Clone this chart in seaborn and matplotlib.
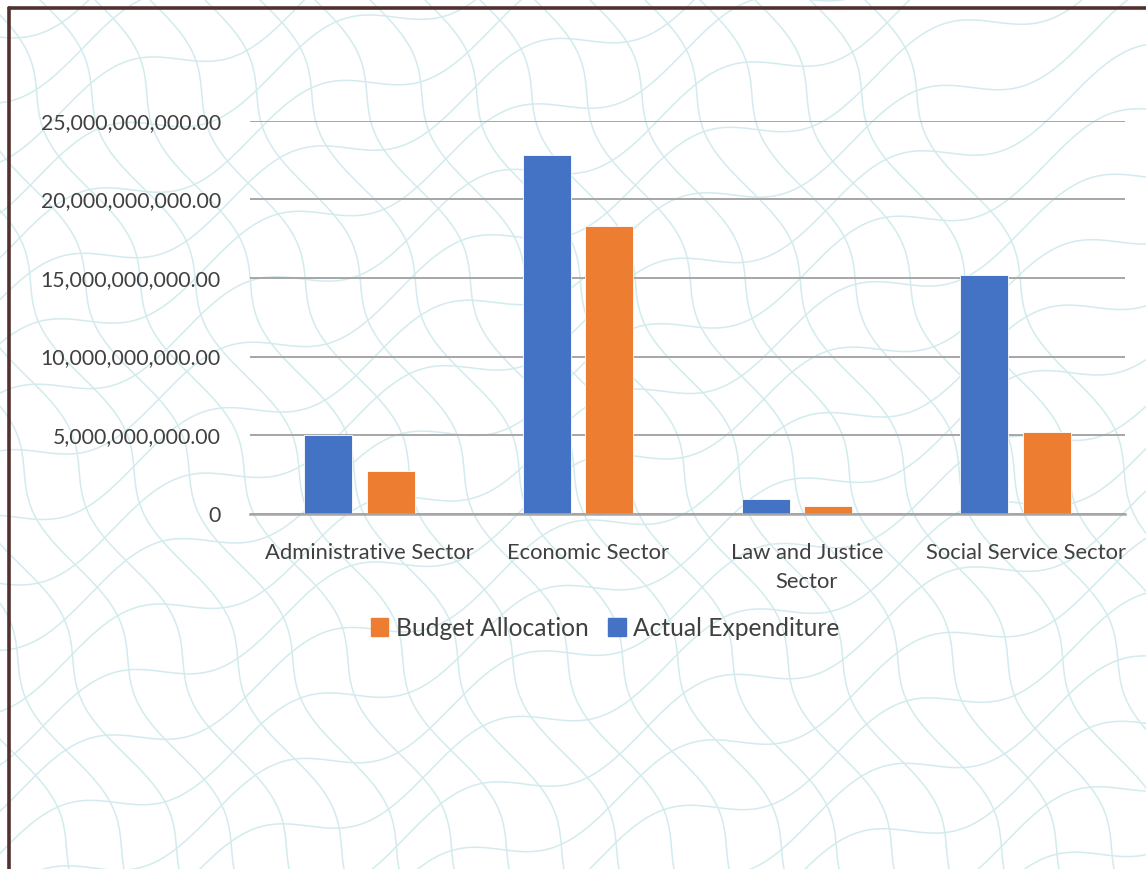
import numpy as np
import pandas as pd
import matplotlib
matplotlib.use("Agg")
import matplotlib.pyplot as plt
from matplotlib.patches import Patch
from matplotlib.lines import Line2D
from matplotlib.ticker import FuncFormatter
from matplotlib.transforms import ScaledTranslation
import seaborn as sns

# data
sectors = ["Administrative Sector", "Economic Sector", "Law and Justice\nSector", "Social Service Sector"]
actual_expenditure = [5.00e9, 22.82e9, 0.94e9, 15.18e9]
budget_allocation = [2.72e9, 18.32e9, 0.51e9, 5.18e9]
y_ticks = [0, 5e9, 10e9, 15e9, 20e9, 25e9]

df = pd.DataFrame({
    "Sector": sectors * 2,
    "Amount": actual_expenditure + budget_allocation,
    "Series": ["Actual Expenditure"] * 4 + ["Budget Allocation"] * 4,
})

blue = "#4472C4"
orange = "#ED7D31"
text_col = "#404040"
grid_col = "#A6A6A6"

sns.set_style("white")
plt.rcParams["font.family"] = ["Lato", "DejaVu Sans"]

fig = plt.figure(figsize=(11.46, 8.69), dpi=100)

# decorative wavy background
bg = fig.add_axes([0, 0, 1, 1], zorder=0)
bg.set_xlim(0, 1146)
bg.set_ylim(869, 0)
bg.axis("off")
xs = np.linspace(-50, 1200, 600)
for c in range(-300, 1400, 55):
    bg.plot(xs, c - 0.45 * xs + 22 * np.sin(xs / 38.0 + c / 90.0), color="#D3EBEE", lw=1.1)
ys = np.linspace(-50, 920, 500)
for c in range(-400, 900, 55):
    bg.plot(c + 0.55 * ys + 14 * np.sin(ys / 30.0), ys, color="#D3EBEE", lw=1.1)

# frame border (left + top)
fig.add_artist(Line2D([9 / 1146, 9 / 1146], [0, 1 - 8 / 869], color="#50312F", lw=2.6))
fig.add_artist(Line2D([9 / 1146, 1], [1 - 8 / 869, 1 - 8 / 869], color="#50312F", lw=2.6))

ax = fig.add_axes([250 / 1146, 1 - 513.7 / 869, 875 / 1146, (513.7 - 120.7) / 869], zorder=1)
ax.patch.set_alpha(0)

sns.barplot(data=df, x="Sector", y="Amount", hue="Series",
            hue_order=["Actual Expenditure", "Budget Allocation"],
            palette=[blue, orange], saturation=1, width=0.57, gap=0.23,
            edgecolor="white", linewidth=0.6, ax=ax, legend=False, zorder=3)

ax.set_ylim(0, 25e9)
ax.set_xlim(-0.5, 3.5)
ax.set_yticks(y_ticks)
ax.yaxis.set_major_formatter(FuncFormatter(lambda v, p: "0" if v == 0 else f"{v:,.2f}"))
ax.grid(axis="y", color=grid_col, lw=1.4, zorder=0)
ax.set_axisbelow(True)
for s in ["left", "right", "top"]:
    ax.spines[s].set_visible(False)
ax.spines["bottom"].set_color(grid_col)
ax.spines["bottom"].set_linewidth(1.8)
ax.spines["bottom"].set_zorder(4)
ax.tick_params(axis="y", length=0, pad=21, labelsize=15.3, labelcolor=text_col)
ax.tick_params(axis="x", length=0, pad=21, labelsize=15.8, labelcolor=text_col)
shift = ScaledTranslation(0.10, 0, fig.dpi_scale_trans)
for lab in ax.get_xticklabels():
    lab.set_linespacing(1.55)
    lab.set_transform(lab.get_transform() + shift)
ax.set_xlabel("")
ax.set_ylabel("")

handles = [Patch(color=orange, label="Budget Allocation"),
           Patch(color=blue, label="Actual Expenditure")]
fig.legend(handles=handles, loc="center", bbox_to_anchor=(605 / 1146, 1 - 628 / 869),
           ncol=2, frameon=False, fontsize=17.7, labelcolor=text_col,
           handlelength=0.72, handleheight=0.72, handletextpad=0.3, columnspacing=0.8)

fig.savefig("out.png", dpi=100, facecolor="white")
